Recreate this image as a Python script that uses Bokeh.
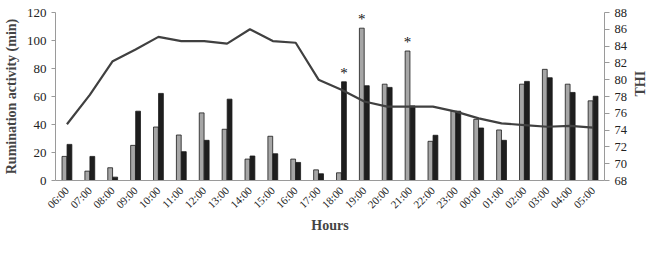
from bokeh.plotting import figure
from bokeh.models import (FactorRange, Range1d, LinearAxis, Legend, LegendItem,
                          ColumnDataSource, FixedTicker, Text)
from bokeh.transform import dodge
from bokeh.core.properties import value
from bokeh.embed import file_html
from bokeh.resources import INLINE
import math

hours = ["06:00", "07:00", "08:00", "09:00", "10:00", "11:00", "12:00", "13:00",
         "14:00", "15:00", "16:00", "17:00", "18:00", "19:00", "20:00", "21:00",
         "22:00", "23:00", "00:00", "01:00", "02:00", "03:00", "04:00", "05:00"]
icl = [17.2, 6.7, 9.1, 25.1, 38.2, 32.5, 48.3, 36.6, 15.3, 31.6, 15.3, 7.6,
       5.5, 108.8, 68.8, 92.5, 28.0, 49.5, 43.7, 36.1, 68.8, 79.4, 68.8, 56.9]
iclf = [25.8, 17.2, 2.4, 49.5, 62.2, 20.6, 28.7, 58.1, 17.5, 19.1, 12.9, 4.8,
        70.5, 67.7, 66.5, 53.3, 32.3, 49.5, 37.5, 28.7, 70.8, 73.4, 62.9, 60.2]
thi = [74.7, 78.2, 82.2, 83.6, 85.1, 84.6, 84.6, 84.3, 86.0, 84.6, 84.4, 80.0,
       78.8, 77.4, 76.8, 76.8, 76.8, 76.2, 75.4, 74.8, 74.6, 74.4, 74.5, 74.3]
star_hours = ["18:00", "19:00", "21:00"]
star_series = ["ICLF", "ICL", "ICL"]

FONT = "Liberation Serif"

src = ColumnDataSource(dict(hours=hours, icl=icl, iclf=iclf, thi=thi))

p = figure(x_range=FactorRange(*hours, range_padding=0), y_range=Range1d(0, 120),
           frame_width=549, frame_height=168,
           output_backend="svg", toolbar_location=None,
           min_border_left=48, min_border_right=53, min_border_top=12, min_border_bottom=0)
p.extra_y_ranges = {"thi": Range1d(68, 88)}
p.outline_line_color = None
p.grid.grid_line_color = None
p.background_fill_color = "white"

off = 0.11
w = 0.21
r_icl = p.vbar(x=dodge("hours", -off, range=p.x_range), top="icl", width=w, source=src,
               fill_color="#a6a6a6", line_color="#1a1a1a", line_width=0.8)
r_iclf = p.vbar(x=dodge("hours", off, range=p.x_range), top="iclf", width=w, source=src,
                fill_color="#1e1e1e", line_color="#1a1a1a", line_width=0.8)
r_thi = p.line(x="hours", y="thi", source=src, y_range_name="thi",
               line_color="#404040", line_width=2.2)

# asterisks above the significant bars
sx, sy = [], []
for h, s in zip(star_hours, star_series):
    i = hours.index(h)
    sx.append(i + 0.5 + (-off if s == "ICL" else off))
    sy.append(icl[i] if s == "ICL" else iclf[i])
star_src = ColumnDataSource(dict(x=sx, y=sy))
star_glyph = Text(x="x", y="y", text=value("*"), text_font=value(FONT),
                  text_font_size="15px", text_align="center", text_baseline="bottom",
                  y_offset=-1, text_color="#111111")
p.add_glyph(star_src, star_glyph)

# left axis
ax = p.yaxis[0]
ax.ticker = FixedTicker(ticks=list(range(0, 121, 20)))
ax.axis_label = "Rumination activity (min)"
ax.axis_label_text_font = FONT
ax.axis_label_text_font_style = "bold"
ax.axis_label_text_font_size = "14px"
ax.axis_label_standoff = 5
ax.major_label_text_font = FONT
ax.major_label_text_font_size = "13px"
ax.major_label_text_color = "#222222"
ax.axis_line_color = "#9a9a9a"
ax.major_tick_line_color = "#9a9a9a"
ax.major_tick_out = 4
ax.major_tick_in = 0
ax.minor_tick_line_color = None

# right axis
rax = LinearAxis(y_range_name="thi", ticker=FixedTicker(ticks=list(range(68, 89, 2))))
rax.axis_label = "THI"
rax.axis_label_text_font = FONT
rax.axis_label_text_font_style = "bold"
rax.axis_label_text_font_size = "14px"
rax.axis_label_standoff = 10
rax.axis_label_orientation = math.pi / 2
rax.major_label_text_font = FONT
rax.major_label_text_font_size = "12.5px"
rax.major_label_text_color = "#222222"
rax.axis_line_color = "#9a9a9a"
rax.major_tick_line_color = "#9a9a9a"
rax.major_tick_out = 5
rax.major_tick_in = 0
rax.minor_tick_line_color = None
p.add_layout(rax, "right")

# x axis
xa = p.xaxis[0]
xa.axis_label = "Hours"
xa.axis_label_text_font = FONT
xa.axis_label_text_font_style = "bold"
xa.axis_label_text_font_size = "14px"
xa.axis_label_standoff = 0
xa.major_label_orientation = math.pi / 4
xa.major_label_text_font = FONT
xa.major_label_text_font_size = "11px"
xa.major_label_text_color = "#222222"
xa.axis_line_color = "#9a9a9a"
xa.major_tick_line_color = None
xa.minor_tick_line_color = None
xa.major_label_standoff = 2

legend = Legend(items=[LegendItem(label="ICL", renderers=[r_icl]),
                       LegendItem(label="ICLF", renderers=[r_iclf]),
                       LegendItem(label="THI", renderers=[r_thi])],
                orientation="horizontal", location="top",
                label_text_font=FONT, label_text_font_size="13.5px",
                label_text_color="#222222", label_height=10,
                glyph_width=24, glyph_height=9, spacing=16, padding=0, margin=2,
                label_standoff=2, border_line_color=None, background_fill_alpha=0)
p.add_layout(legend, "below")

open("out.html", "w").write(file_html(p, INLINE))
